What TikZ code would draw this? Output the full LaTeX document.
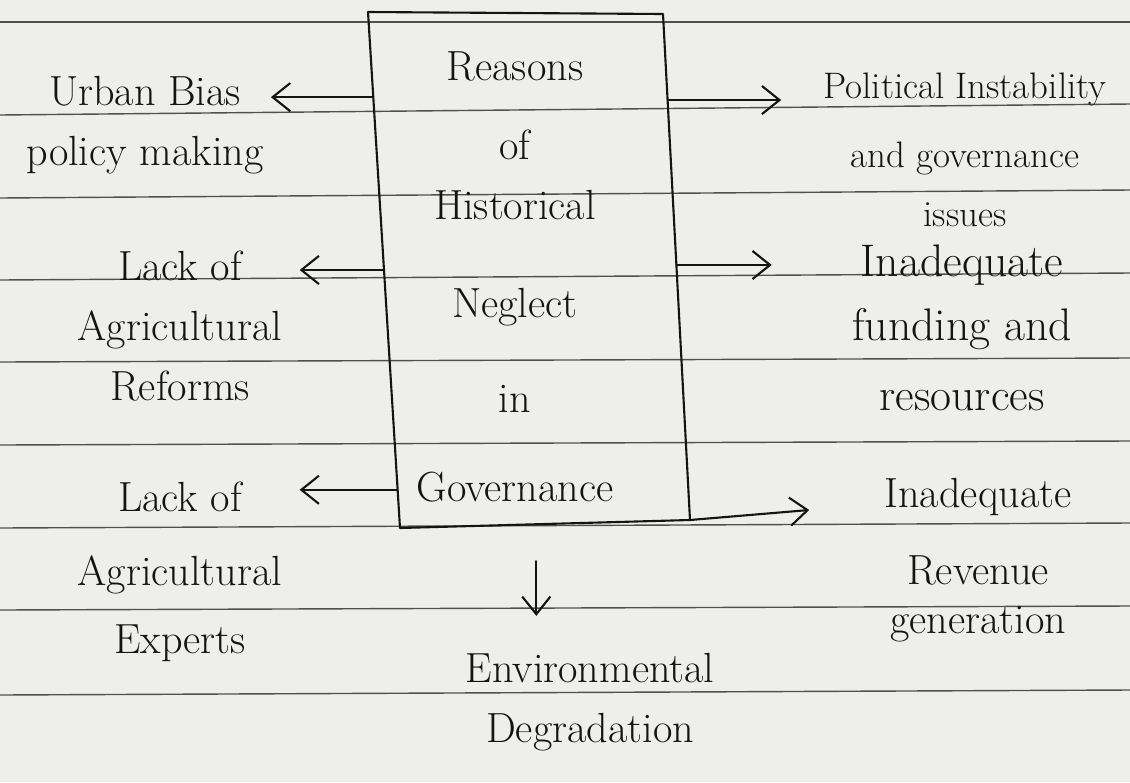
\documentclass[tikz,border=0pt]{standalone}
\usetikzlibrary{arrows.meta,calc}
\definecolor{paper}{RGB}{238,238,236}
\definecolor{rulec}{RGB}{80,80,80}
\definecolor{ink}{RGB}{20,20,20}
\begin{document}
\begin{tikzpicture}[x=0.02cm,y=-0.02cm,
  hand/.style={font=\fontsize{24}{34}\selectfont, text=ink, align=center, inner sep=4pt},
  pen/.style={draw=ink, line width=1.2pt, line cap=round, line join=round},
  arr/.style={pen, -{Straight Barb[length=10pt,width=16pt,line width=1.2pt]}},
  ruling/.style={draw=rulec, line width=0.8pt}]
\fill[paper] (0,0) rectangle (1130,782);
\useasboundingbox (0,0) rectangle (1130,782);
% ruled paper
\foreach \a/\b in {22/22,115/104,198/190,280/273,362/358,445/441,528/523,610/606,695/690}
  \draw[ruling] (0,\a) -- (1130,\b);
% central box
\coordinate (tl) at (368,12);
\coordinate (tr) at (663,14);
\coordinate (br) at (690,520);
\coordinate (bl) at (400,528);
\draw[pen] (tl) -- (tr) -- (br) -- (bl) -- cycle;
\node[hand] (T) at (515,277) {Reasons\\[11pt]of\\Historical\\[22pt]Neglect\\[20pt]in\\[17pt]Governance};
% side texts
\node[hand] (L1) at (145,125) {Urban Bias\\policy making};
\node[hand] (L2) at (180,326) {Lack of\\Agricultural\\Reforms};
\node[hand] (L3) at (180,572) {Lack of\\[8pt]Agricultural\\[5pt]Experts};
\node[hand, font=\fontsize{21}{34}\selectfont] (R1) at (965,150) {Political Instability\\[5pt]and governance\\issues};
\node[hand, font=\fontsize{26}{34}\selectfont] (R2) at (962,328) {Inadequate\\[2pt]funding and\\[6pt]resources};
\node[hand] (R3) at (978,560) {Inadequate\\[10pt]Revenue\\[-6pt]generation};
\node[hand] (E) at (590,702) {Environmental\\Degradation};
% connector start points on the box
\coordinate (a1) at ($(tl)!0.165!(bl)$);
\coordinate (a2) at ($(tl)!0.5!(bl)$);
\coordinate (a3) at ($(tl)!0.926!(bl)$);
\coordinate (b1) at ($(tr)!0.17!(br)$);
\coordinate (b2) at ($(tr)!0.496!(br)$);
\coordinate (dtop) at ($(bl)!0.47!(br)+(0,37)$);
% connectors
\draw[arr] (a1) -- (a1 -| L1.east);
\draw[arr] (a2) -- ($(a2 -| L2.east)+(10,0)$);
\draw[arr] (a3) -- ($(a3 -| L3.east)+(10,0)$);
\draw[arr] (b1) -- ($(b1 -| R1.west)+(-35,0)$);
\draw[arr] (b2) -- ($(b2 -| R2.west)+(-73,0)$);
\draw[arr] (br) -- ($(br -| R3.west)+(-68,-10)$);
\draw[arr] (dtop) -- ($(dtop |- E.north)+(0,-30)$);
\end{tikzpicture}
\end{document}
